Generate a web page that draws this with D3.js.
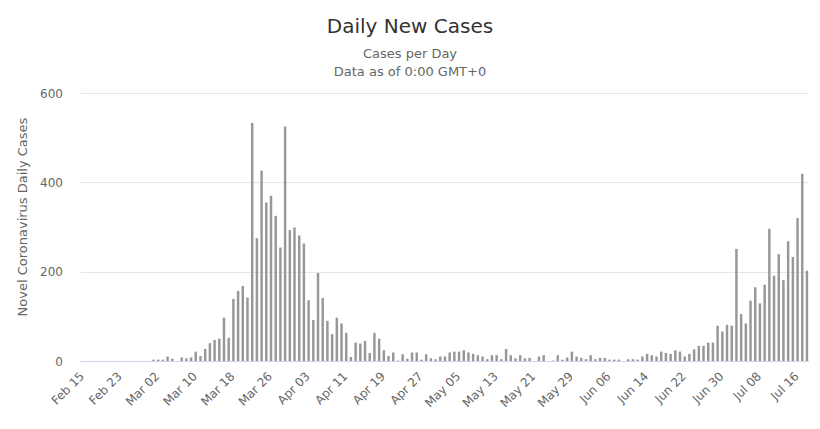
<!DOCTYPE html>
<html>
<head>
<meta charset="utf-8">
<script src="https://cdn.jsdelivr.net/npm/d3@7/dist/d3.min.js"></script>
<style>
  body { margin: 0; background: #fff; }
  svg { display: block; }
  text { font-family: "DejaVu Sans", "Open Sans", sans-serif; }
</style>
</head>
<body>
<div id="chart"></div>
<script>
// ---- data ----
const startDate = "2020-02-15";
const tickLabels = ["Feb 15","Feb 23","Mar 02","Mar 10","Mar 18","Mar 26","Apr 03","Apr 11","Apr 19","Apr 27","May 05","May 13","May 21","May 29","Jun 06","Jun 14","Jun 22","Jun 30","Jul 08","Jul 16"];
const dailyCases = [
  0,0,0,0,0,0,0,0,0,0,0,0,0,0,0,
  3,3,3,10,5,0,8,6,8,21,11,27,40,47,50,97,52,139,157,168,142,
  533,275,426,355,370,325,254,525,293,299,281,263,136,92,197,141,90,60,97,84,63,9,41,39,45,18,63,50,
  24,11,19,1,15,5,19,19,3,15,6,4,10,10,19,21,21,24,19,16,13,10,4,13,13,4,27,13,6,13,6,7,0,10,13,0,1,13,3,8,
  21,10,7,4,13,4,7,7,3,3,3,0,4,4,3,10,16,13,10,21,18,16,24,21,10,16,26,34,34,41,41,
  79,66,81,79,251,105,84,135,165,129,171,296,191,239,181,268,233,320,419,202
];
const yTicks = [0, 200, 400, 600];
const titleText = "Daily New Cases";
const subtitleLines = ["Cases per Day", "Data as of 0:00 GMT+0"];
const yAxisTitle = "Novel Coronavirus Daily Cases";

// ---- layout ----
const W = 820, H = 429;
const plot = { left: 80.6, right: 809.3, top: 93, bottom: 361 };

const parse = d3.timeParse("%Y-%m-%d");
const fmt = d3.timeFormat("%b %d");
const dates = d3.timeDay.range(parse(startDate), d3.timeDay.offset(parse(startDate), dailyCases.length));
const cats = dates.map(fmt);

const svg = d3.select("#chart").append("svg").attr("width", W).attr("height", H);

const x = d3.scaleBand().domain(cats).range([plot.left, plot.right]).paddingInner(0.48).paddingOuter(0.24);
const y = d3.scaleLinear().domain([0, 600]).range([plot.bottom, plot.top]);

// gridlines
svg.append("g").selectAll("line").data(yTicks).join("line")
  .attr("x1", plot.left).attr("x2", plot.right)
  .attr("y1", d => Math.round(y(d)) + 0.5).attr("y2", d => Math.round(y(d)) + 0.5)
  .attr("stroke", "#e6e6e6").attr("stroke-width", 1);

// y tick labels
svg.append("g").selectAll("text").data(yTicks).join("text")
  .attr("x", 63).attr("y", d => y(d) + 4.5)
  .attr("text-anchor", "end").attr("fill", "#666").attr("font-size", "12px")
  .text(d => d);

// bars
svg.append("g").selectAll("rect").data(dailyCases).join("rect")
  .attr("x", (d, i) => x(cats[i]))
  .attr("width", x.bandwidth())
  .attr("y", d => y(d))
  .attr("height", d => y(0) - y(d))
  .attr("fill", "#979797");

// x axis line
svg.append("line")
  .attr("x1", plot.left).attr("x2", plot.right)
  .attr("y1", plot.bottom + 0.5).attr("y2", plot.bottom + 0.5)
  .attr("stroke", "#ccd6eb").attr("stroke-width", 1);

// x labels
const xAxis = d3.axisBottom(x).tickValues(tickLabels).tickSize(0).tickPadding(0);
const gx = svg.append("g").attr("transform", `translate(0,${plot.bottom})`).call(xAxis);
gx.select(".domain").remove();
gx.selectAll("text")
  .attr("font-size", "12px").attr("fill", "#666")
  .attr("font-family", "'DejaVu Sans', sans-serif")
  .attr("text-anchor", "end")
  .attr("dy", null)
  .attr("y", 0)
  .attr("transform", "translate(2,16) rotate(-45)");

// y axis title
svg.append("text")
  .attr("transform", `translate(27,${(plot.top + plot.bottom) / 2 - 10}) rotate(-90)`)
  .attr("text-anchor", "middle").attr("fill", "#666").attr("font-size", "13px")
  .text(yAxisTitle);

// title & subtitle
svg.append("text").attr("x", 410).attr("y", 33).attr("text-anchor", "middle")
  .attr("fill", "#333").attr("font-size", "20px").text(titleText);
svg.selectAll(".sub").data(subtitleLines).join("text").attr("class", "sub")
  .attr("x", 410).attr("y", (d, i) => 58 + i * 18).attr("text-anchor", "middle")
  .attr("fill", "#666").attr("font-size", "13px").text(d => d);
</script>
</body>
</html>
